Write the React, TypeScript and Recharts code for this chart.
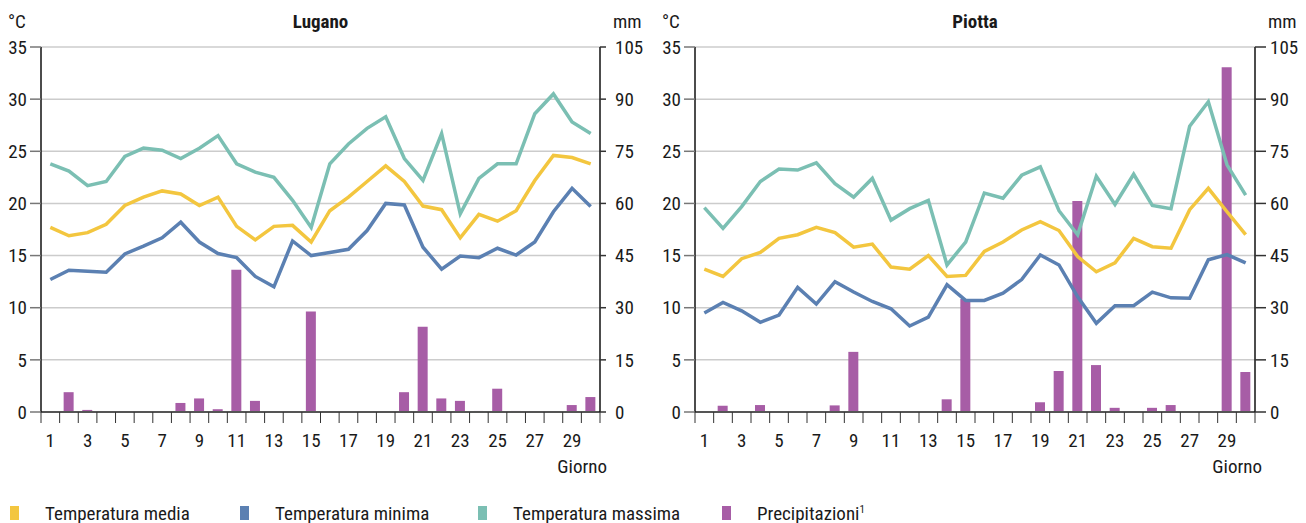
import { ComposedChart, Line, Bar, XAxis, YAxis, CartesianGrid } from 'recharts';

const DAYS = [1, 2, 3, 4, 5, 6, 7, 8, 9, 10, 11, 12, 13, 14, 15, 16, 17, 18, 19, 20, 21, 22, 23, 24, 25, 26, 27, 28, 29, 30];
const X_LABEL_DAYS = [1, 3, 5, 7, 9, 11, 13, 15, 17, 19, 21, 23, 25, 27, 29];
const TEMP_TICKS = [0, 5, 10, 15, 20, 25, 30, 35];
const PREC_TICKS = [0, 15, 30, 45, 60, 75, 90, 105];

// Lugano
const LUGANO_MEDIA = [17.7, 16.9, 17.2, 18.0, 19.8, 20.6, 21.2, 20.9, 19.8, 20.6, 17.8, 16.5, 17.8, 17.9, 16.3, 19.3, 20.6, 22.1, 23.6, 22.1, 19.75, 19.4, 16.7, 18.95, 18.3, 19.3, 22.2, 24.6, 24.4, 23.8];
const LUGANO_MINIMA = [12.7, 13.6, 13.5, 13.4, 15.15, 15.9, 16.7, 18.2, 16.3, 15.2, 14.8, 13.0, 12.0, 16.4, 15.0, 15.3, 15.6, 17.4, 20.0, 19.85, 15.8, 13.7, 14.95, 14.8, 15.7, 15.05, 16.3, 19.2, 21.45, 19.7];
const LUGANO_MASSIMA = [23.8, 23.1, 21.7, 22.1, 24.5, 25.3, 25.1, 24.3, 25.3, 26.5, 23.8, 23.0, 22.5, 20.3, 17.7, 23.8, 25.7, 27.2, 28.3, 24.3, 22.2, 26.7, 19.0, 22.4, 23.8, 23.8, 28.6, 30.5, 27.8, 26.7];
const LUGANO_PREC = [0, 5.7, 0.6, 0, 0, 0, 0, 2.6, 3.9, 0.8, 40.9, 3.2, 0, 0, 28.9, 0, 0, 0, 0, 5.7, 24.5, 3.9, 3.2, 0.3, 6.7, 0.3, 0, 0, 2.0, 4.3];

// Piotta
const PIOTTA_MEDIA = [13.7, 13.0, 14.7, 15.3, 16.65, 17.0, 17.7, 17.2, 15.8, 16.1, 13.9, 13.7, 15.0, 13.0, 13.1, 15.4, 16.3, 17.45, 18.25, 17.4, 14.9, 13.45, 14.3, 16.65, 15.85, 15.7, 19.4, 21.45, 19.2, 17.0];
const PIOTTA_MINIMA = [9.5, 10.5, 9.7, 8.6, 9.3, 11.95, 10.35, 12.5, 11.5, 10.6, 9.9, 8.25, 9.1, 12.2, 10.7, 10.7, 11.4, 12.7, 15.05, 14.1, 11.05, 8.5, 10.2, 10.2, 11.5, 10.95, 10.9, 14.6, 15.1, 14.3];
const PIOTTA_MASSIMA = [19.6, 17.6, 19.7, 22.1, 23.3, 23.2, 23.9, 21.9, 20.6, 22.4, 18.4, 19.5, 20.3, 14.1, 16.3, 21.0, 20.5, 22.7, 23.5, 19.3, 17.0, 22.6, 19.9, 22.8, 19.8, 19.5, 27.4, 29.75, 23.7, 20.8];
const PIOTTA_PREC = [0, 1.8, 0, 2.0, 0, 0, 0, 1.9, 17.3, 0, 0, 0, 0, 3.65, 32.5, 0, 0, 0, 2.8, 11.8, 60.7, 13.5, 1.2, 0, 1.2, 2.0, 0, 0, 99.2, 11.5];

const SERIES = [
  { key: 'media', name: 'Temperatura media', color: '#F3C63F' },
  { key: 'minima', name: 'Temperatura minima', color: '#5B80B2' },
  { key: 'massima', name: 'Temperatura massima', color: '#7BBFB3' },
  { key: 'prec', name: 'Precipitazioni', color: '#A75DA6' },
];

const FONT = "Roboto, 'Liberation Sans', sans-serif";
const STRETCH = 'condensed';
const TEXT = '#1a1a1a';

function buildRows(media: number[], minima: number[], massima: number[], prec: number[]) {
  return DAYS.map((day, i) => ({
    day,
    media: media[i],
    minima: minima[i],
    massima: massima[i],
    prec: prec[i],
  }));
}

function DayTick(props: any) {
  const { x, y, payload, index, bandWidth } = props;
  const half = bandWidth / 2;
  return (
    <g>
      <line x1={x - half} x2={x - half} y1={y} y2={y + 11} stroke="#333" />
      {index === DAYS.length - 1 && (
        <line x1={x + half} x2={x + half} y1={y} y2={y + 11} stroke="#333" />
      )}
      {X_LABEL_DAYS.includes(payload.value) && (
        <text x={x} y={y + 35} textAnchor="middle" fontSize={19} fill={TEXT} fontFamily={FONT} style={{ fontStretch: STRETCH }}>
          {payload.value}
        </text>
      )}
    </g>
  );
}

interface PanelProps {
  title: string;
  left: number;
  width: number;
  leftAxisWidth: number;
  rightAxisWidth: number;
  rightTickSize: number;
  rows: ReturnType<typeof buildRows>;
}

function Panel({ title, left, width, leftAxisWidth, rightAxisWidth, rightTickSize, rows }: PanelProps) {
  const height = 470;
  const plotWidth = width - leftAxisWidth - rightAxisWidth;
  const bandWidth = plotWidth / DAYS.length;
  const labelStyle: React.CSSProperties = {
    position: 'absolute',
    fontFamily: FONT,
    fontStretch: STRETCH,
    fontSize: 19,
    color: TEXT,
    lineHeight: '22px',
    whiteSpace: 'nowrap',
  };
  const tickStyle = { fontSize: 19, fill: TEXT, fontFamily: FONT, style: { fontStretch: STRETCH } };
  return (
    <div style={{ position: 'absolute', left, top: 0, width, height }}>
      <div style={{ ...labelStyle, left: leftAxisWidth - 33, top: 11 }}>°C</div>
      <div
        style={{
          ...labelStyle,
          left: leftAxisWidth,
          width: plotWidth,
          top: 11,
          textAlign: 'center',
          fontWeight: 'bold',
        }}
      >
        {title}
      </div>
      <div style={{ ...labelStyle, left: width - rightAxisWidth + 13, top: 11 }}>mm</div>
      <div style={{ ...labelStyle, left: width - rightAxisWidth - 60, width: 67, top: 456, textAlign: 'right' }}>
        Giorno
      </div>
      <ComposedChart
        width={width}
        height={height}
        data={rows}
        margin={{ top: 47, right: 0, bottom: 0, left: 0 }}
        style={{ fontFamily: FONT, fontStretch: STRETCH }}
      >
        <CartesianGrid yAxisId="t" vertical={false} stroke="#cccccc" strokeWidth={1.5} />
        <XAxis
          dataKey="day"
          type="category"
          interval={0}
          height={58}
          tickSize={0}
          tickMargin={0}
          tickLine={false}
          axisLine={{ stroke: '#555', strokeWidth: 2 }}
          tick={<DayTick bandWidth={bandWidth} />}
        />
        <YAxis
          yAxisId="t"
          orientation="left"
          width={leftAxisWidth}
          domain={[0, 35]}
          ticks={TEMP_TICKS}
          interval={0}
          tickSize={11}
          tickMargin={3}
          axisLine={{ stroke: '#111', strokeWidth: 1.5 }}
          tickLine={{ stroke: '#777', strokeWidth: 1.5 }}
          tick={tickStyle}
        />
        <YAxis
          yAxisId="p"
          orientation="right"
          width={rightAxisWidth}
          domain={[0, 105]}
          ticks={PREC_TICKS}
          interval={0}
          tickSize={rightTickSize}
          tickMargin={rightTickSize < 8 ? 9 : 4}
          axisLine={{ stroke: '#111', strokeWidth: 1.5 }}
          tickLine={{ stroke: '#333', strokeWidth: 1.5 }}
          tick={tickStyle}
        />
        <Bar yAxisId="p" dataKey="prec" fill={SERIES[3].color} barSize={10} isAnimationActive={false} />
        <Line yAxisId="t" dataKey="massima" stroke={SERIES[2].color} strokeWidth={3.5} dot={false} isAnimationActive={false} />
        <Line yAxisId="t" dataKey="media" stroke={SERIES[0].color} strokeWidth={3.5} dot={false} isAnimationActive={false} />
        <Line yAxisId="t" dataKey="minima" stroke={SERIES[1].color} strokeWidth={3.5} dot={false} isAnimationActive={false} />
      </ComposedChart>
    </div>
  );
}

const LEGEND_X = [10, 240, 478, 722];

export default function App() {
  return (
    <div style={{ position: 'absolute', left: 0, top: 0, width: 1306, height: 523, background: '#fff', fontFamily: FONT, fontStretch: STRETCH }}>
      <Panel
        title="Lugano"
        left={0}
        width={650}
        leftAxisWidth={41}
        rightAxisWidth={50}
        rightTickSize={6}
        rows={buildRows(LUGANO_MEDIA, LUGANO_MINIMA, LUGANO_MASSIMA, LUGANO_PREC)}
      />
      <Panel
        title="Piotta"
        left={650}
        width={656}
        leftAxisWidth={45}
        rightAxisWidth={51}
        rightTickSize={11}
        rows={buildRows(PIOTTA_MEDIA, PIOTTA_MINIMA, PIOTTA_MASSIMA, PIOTTA_PREC)}
      />
      {SERIES.map((s, i) => (
        <div key={s.key} style={{ position: 'absolute', left: LEGEND_X[i], top: 502, height: 22, display: 'flex', alignItems: 'center' }}>
          <span style={{ display: 'inline-block', width: 9, height: 14, background: s.color, marginRight: 26 }} />
          <span style={{ fontSize: 19, color: TEXT, fontFamily: FONT, fontStretch: STRETCH, whiteSpace: 'nowrap' }}>
            {s.name}
            {s.key === 'prec' && <sup style={{ fontSize: 11 }}>1</sup>}
          </span>
        </div>
      ))}
    </div>
  );
}
